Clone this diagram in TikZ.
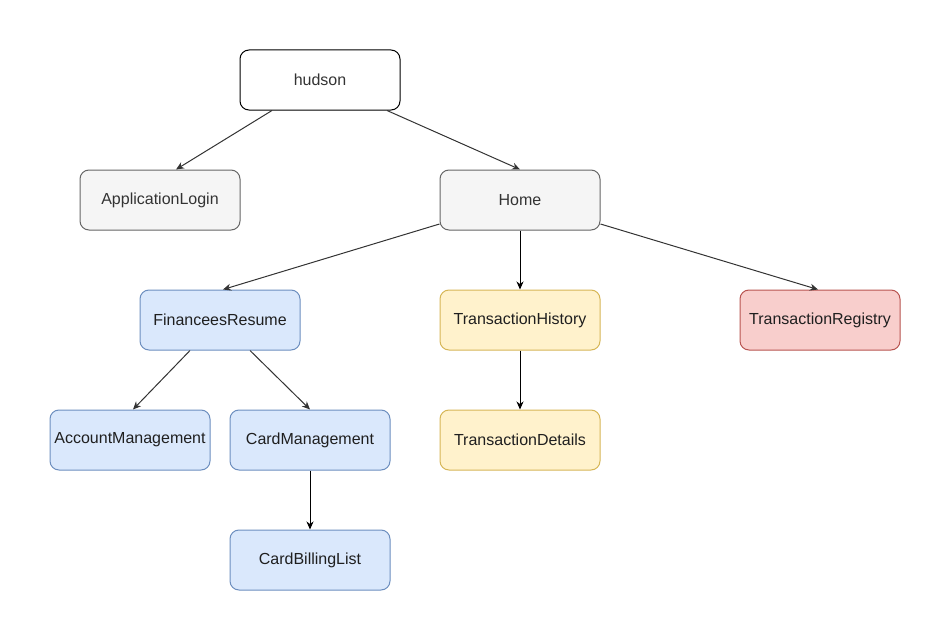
\documentclass[tikz,border=0pt]{standalone}
\usepackage{fontspec}
\setmainfont{Liberation Sans}
\usetikzlibrary{arrows.meta}
\definecolor{greyfill}{HTML}{F5F5F5}
\definecolor{greyline}{HTML}{666666}
\definecolor{greytext}{HTML}{333333}
\definecolor{bluefill}{HTML}{DAE8FC}
\definecolor{blueline}{HTML}{6C8EBF}
\definecolor{yellowfill}{HTML}{FFF2CC}
\definecolor{yellowline}{HTML}{D6B656}
\definecolor{redfill}{HTML}{F8CECC}
\definecolor{redline}{HTML}{B85450}
\definecolor{edgecol}{HTML}{333333}
\tikzset{
  box/.style={rectangle, rounded corners=9pt, minimum width=160pt, minimum height=60pt,
    inner sep=0pt, line width=1pt, font=\fontsize{16pt}{19pt}\selectfont, text=black!88},
  rootbox/.style={box, draw=black, fill=white, text=greytext},
  greybox/.style={box, draw=greyline, fill=greyfill, text=greytext},
  bluebox/.style={box, draw=blueline, fill=bluefill},
  yellowbox/.style={box, draw=yellowline, fill=yellowfill},
  redbox/.style={box, draw=redline, fill=redfill},
  conn/.style={line width=1pt, draw=edgecol, -{Stealth[length=8pt,width=7pt,inset=2.5pt]}},
  vconn/.style={conn, draw=black}
}
\begin{document}
\begin{tikzpicture}[x=1pt,y=-1pt]
\useasboundingbox (0,0) rectangle (951,642);
\node[rootbox] (hudson) at (320,80) {hudson};
\node[greybox] (login) at (160,200) {ApplicationLogin};
\node[greybox] (home) at (520,200) {Home};
\node[bluebox] (fin) at (220,320) {FinanceesResume};
\node[yellowbox] (thist) at (520,320) {TransactionHistory};
\node[redbox] (treg) at (820,320) {TransactionRegistry};
\node[bluebox] (acct) at (130,440) {AccountManagement};
\node[bluebox] (card) at (310,440) {CardManagement};
\node[yellowbox] (tdet) at (520,440) {TransactionDetails};
\node[bluebox] (bill) at (310,560) {CardBillingList};

\draw[conn] ([xshift=-48pt]hudson.south) -- ([xshift=16pt]login.north);
\draw[conn] ([xshift=67pt]hudson.south) -- (home.north);
\draw[conn] ([yshift=-24pt]home.west) -- ([xshift=3pt]fin.north);
\draw[vconn] (home.south) -- (thist.north);
\draw[conn] ([yshift=-24pt]home.east) -- ([xshift=-2pt]treg.north);
\draw[conn] ([xshift=-30pt]fin.south) -- ([xshift=3pt]acct.north);
\draw[conn] ([xshift=30pt]fin.south) -- (card.north);
\draw[vconn] (card.south) -- (bill.north);
\draw[vconn] (thist.south) -- (tdet.north);
\end{tikzpicture}
\end{document}
